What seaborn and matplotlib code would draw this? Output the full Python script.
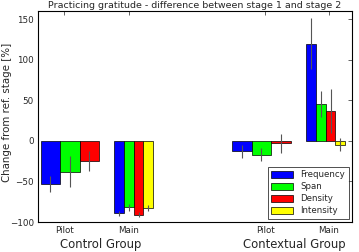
import numpy as np
import matplotlib
matplotlib.use("Agg")
import matplotlib.pyplot as plt
import seaborn as sns

measures = ["Frequency", "Span", "Density", "Intensity"]
stage_labels = ["Pilot", "Main", "Pilot", "Main"]
group_labels = ["Control Group", "Contextual Group"]

# change from reference stage [%] and error, per block (pilot has no intensity)
control_pilot = [-53, -38, -25]
control_pilot_err = [10, 19, 12]
control_main = [-89, -82, -91, -83]
control_main_err = [3, 4, 3, 4]
context_pilot = [-13, -17, -3]
context_pilot_err = [8, 8, 12]
context_main = [120, 45, 37, -5]
context_main_err = [31, 16, 27, 8]

blocks = [control_pilot, control_main, context_pilot, context_main]
block_errs = [control_pilot_err, control_main_err, context_pilot_err, context_main_err]

# layout (x units)
block_start = [0.28, 7.87, 20.03, 27.66]
tick_pos = [2.68, 9.35, 23.4, 30.0]
group_x = [6.5, 26.4]

sns.set_style("white")
plt.rcParams["font.family"] = ["DejaVu Sans"]
plt.rcParams["xtick.direction"] = "in"
plt.rcParams["ytick.direction"] = "in"

palette = ["#0000ff", "#00ff00", "#ff0000", "#ffff00"]

fig = plt.figure(figsize=(3.59, 2.52), dpi=100)
ax = fig.add_axes([0.106, 0.119, 0.8745, 0.837])

for start, vals, errs in zip(block_start, blocks, block_errs):
    w = 2.0 if len(vals) == 3 else 1.0
    xs = start + w * np.arange(len(vals))
    for i, (x, v, e) in enumerate(zip(xs, vals, errs)):
        ax.bar(x, v, width=w, align="edge", color=palette[i], edgecolor="black",
               linewidth=0.5, label=measures[i] if start == block_start[1] else None)
        ax.errorbar(x + w / 2, v, yerr=e, color="#555555", linewidth=0.8, capsize=0)

ax.set_xlim(0, 32.37)
ax.set_ylim(-100, 160)
ax.set_yticks([-100, -50, 0, 50, 100, 150])
ax.set_xticks(tick_pos)
ax.set_xticklabels(stage_labels)
ax.tick_params(labelsize=6.3, top=True, right=True, length=3, width=0.5, pad=3)
for s in ax.spines.values():
    s.set_color("black")
    s.set_linewidth(0.8)

ax.set_ylabel("Change from ref. stage [%]", fontsize=7.4, va="center")
ax.yaxis.set_label_coords(-0.098, 0.52)
ax.set_title("Practicing gratitude - difference between stage 1 and stage 2",
             fontsize=6.8, pad=2)

for gx, gl in zip(group_x, group_labels):
    ax.text(gx, -0.075, gl, transform=ax.get_xaxis_transform(), ha="center",
            va="top", fontsize=8.4)

leg = ax.legend(loc="lower right", fontsize=6.2, frameon=True, fancybox=False,
                handlelength=2.6, handleheight=0.9, labelspacing=0.35,
                borderaxespad=0.4, borderpad=0.4)
leg.get_frame().set_edgecolor("black")
leg.get_frame().set_linewidth(0.6)

fig.savefig("out.png", dpi=100)
